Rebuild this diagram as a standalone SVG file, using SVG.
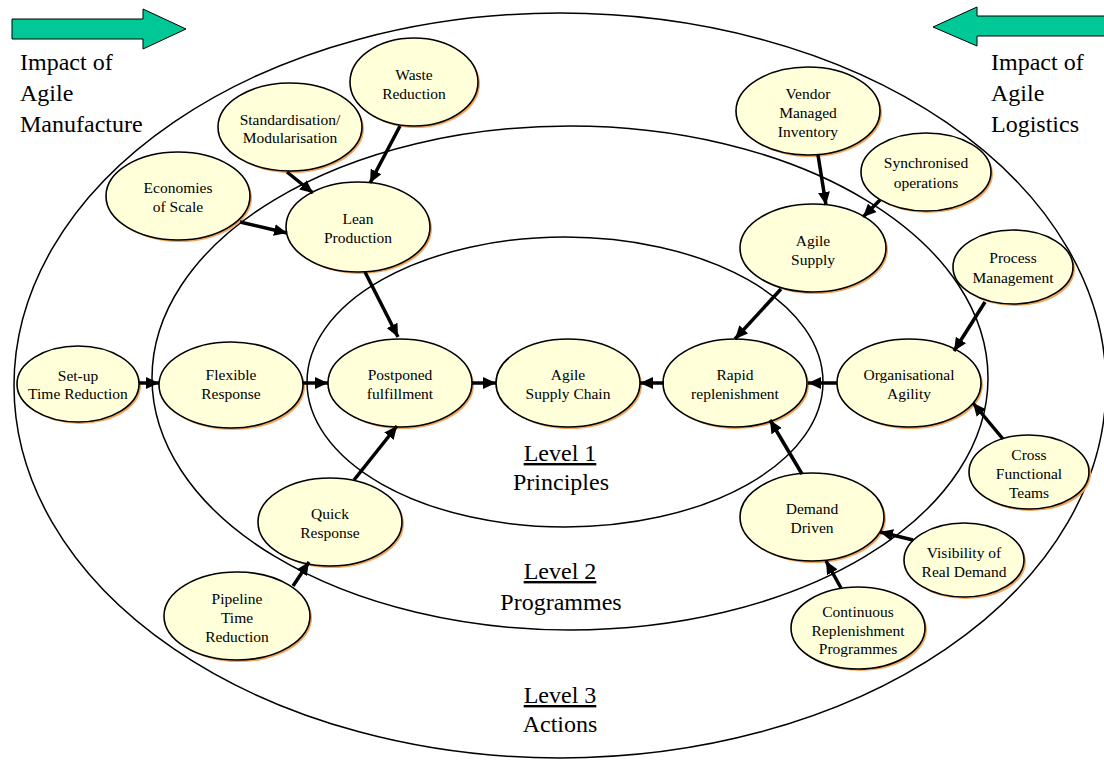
<svg xmlns="http://www.w3.org/2000/svg" width="1104" height="760" viewBox="0 0 1104 760">
<style>
  .ring { fill: none; stroke: #000; stroke-width: 1.5; }
  .sh { fill: #F4A45A; stroke: none; }
  .nd { fill: #FFFFDA; stroke: #000; stroke-width: 1.6; }
  text { font-family: 'Liberation Serif', Tinos, 'Times New Roman', 'DejaVu Serif', serif; fill: #000; }
  .t { font-size: 15.5px; text-anchor: middle; }
  .big { font-size: 24px; }
  .lvl { font-size: 24px; text-anchor: middle; }
  .c { stroke: #000; stroke-width: 3.5; fill: none; marker-end: url(#ah); }
  .garrow { fill: #00C896; stroke: #000; stroke-width: 1; }
</style>
<defs>
  <marker id="ah" markerUnits="userSpaceOnUse" markerWidth="14" markerHeight="12" refX="13" refY="6" orient="auto">
    <path d="M0,0 L13,6 L0,12 z" fill="#000"/>
  </marker>
</defs>
<rect width="1104" height="760" fill="#fff"/>

<g id="rings">
  <ellipse class="ring" cx="560" cy="385.5" rx="546" ry="372.5"/>
  <ellipse class="ring" cx="570" cy="378" rx="418" ry="252"/>
  <ellipse class="ring" cx="565" cy="382" rx="258" ry="145"/>
</g>

<g id="impact-manufacture">
  <path class="garrow" d="M12,19 L143,19 L143,9 L186,29 L143,49 L143,39 L12,39 Z"/>
  <text class="big" x="20" y="70">Impact of</text>
  <text class="big" x="20" y="101">Agile</text>
  <text class="big" x="20" y="132">Manufacture</text>
</g>
<g id="impact-logistics">
  <path class="garrow" d="M1110,16 L977,16 L977,7 L933,27 L977,46 L977,36 L1110,36 Z"/>
  <text class="big" x="991" y="70">Impact of</text>
  <text class="big" x="991" y="101">Agile</text>
  <text class="big" x="991" y="132">Logistics</text>
</g>

<g id="levels">
  <text class="lvl" x="560" y="461" text-decoration="underline">Level 1</text>
  <text class="lvl" x="561" y="490">Principles</text>
  <text class="lvl" x="560" y="579" text-decoration="underline">Level 2</text>
  <text class="lvl" x="561" y="610">Programmes</text>
  <text class="lvl" x="560" y="703" text-decoration="underline">Level 3</text>
  <text class="lvl" x="560" y="732">Actions</text>
</g>

<g id="waste-reduction">
  <ellipse class="sh" cx="416" cy="84" rx="64" ry="44"/>
  <ellipse class="nd" cx="414" cy="82" rx="64" ry="44"/>
  <text class="t" x="414" y="80">Waste</text>
  <text class="t" x="414" y="99">Reduction</text>
</g>
<g id="standardisation">
  <ellipse class="sh" cx="292" cy="129" rx="72" ry="44"/>
  <ellipse class="nd" cx="290" cy="127" rx="72" ry="44"/>
  <text class="t" x="290" y="125">Standardisation/</text>
  <text class="t" x="290" y="143">Modularisation</text>
</g>
<g id="economies-of-scale">
  <ellipse class="sh" cx="180" cy="198" rx="72" ry="44"/>
  <ellipse class="nd" cx="178" cy="196" rx="72" ry="44"/>
  <text class="t" x="178" y="193">Economies</text>
  <text class="t" x="178" y="212">of Scale</text>
</g>
<g id="lean-production">
  <ellipse class="sh" cx="360" cy="229" rx="72" ry="45"/>
  <ellipse class="nd" cx="358" cy="227" rx="72" ry="45"/>
  <text class="t" x="358" y="224">Lean</text>
  <text class="t" x="358" y="243">Production</text>
</g>
<g id="vendor-managed-inventory">
  <ellipse class="sh" cx="810" cy="113" rx="72" ry="44"/>
  <ellipse class="nd" cx="808" cy="111" rx="72" ry="44"/>
  <text class="t" x="808" y="99">Vendor</text>
  <text class="t" x="808" y="118">Managed</text>
  <text class="t" x="808" y="137">Inventory</text>
</g>
<g id="synchronised-operations">
  <ellipse class="sh" cx="928" cy="174" rx="65" ry="39"/>
  <ellipse class="nd" cx="926" cy="172" rx="65" ry="39"/>
  <text class="t" x="926" y="168">Synchronised</text>
  <text class="t" x="926" y="188">operations</text>
</g>
<g id="agile-supply">
  <ellipse class="sh" cx="815" cy="250" rx="73" ry="44"/>
  <ellipse class="nd" cx="813" cy="248" rx="73" ry="44"/>
  <text class="t" x="813" y="246">Agile</text>
  <text class="t" x="813" y="265">Supply</text>
</g>
<g id="process-management">
  <ellipse class="sh" cx="1015" cy="269" rx="60" ry="37"/>
  <ellipse class="nd" cx="1013" cy="267" rx="60" ry="37"/>
  <text class="t" x="1013" y="263">Process</text>
  <text class="t" x="1013" y="283">Management</text>
</g>
<g id="organisational-agility">
  <ellipse class="sh" cx="911" cy="385" rx="72" ry="44"/>
  <ellipse class="nd" cx="909" cy="383" rx="72" ry="44"/>
  <text class="t" x="909" y="380">Organisational</text>
  <text class="t" x="909" y="399">Agility</text>
</g>
<g id="rapid-replenishment">
  <ellipse class="sh" cx="737" cy="385" rx="72" ry="44"/>
  <ellipse class="nd" cx="735" cy="383" rx="72" ry="44"/>
  <text class="t" x="735" y="380">Rapid</text>
  <text class="t" x="735" y="399">replenishment</text>
</g>
<g id="cross-functional-teams">
  <ellipse class="sh" cx="1031" cy="474" rx="60" ry="37"/>
  <ellipse class="nd" cx="1029" cy="472" rx="60" ry="37"/>
  <text class="t" x="1029" y="460">Cross</text>
  <text class="t" x="1029" y="479">Functional</text>
  <text class="t" x="1029" y="498">Teams</text>
</g>
<g id="demand-driven">
  <ellipse class="sh" cx="814" cy="519" rx="72" ry="44"/>
  <ellipse class="nd" cx="812" cy="517" rx="72" ry="44"/>
  <text class="t" x="812" y="514">Demand</text>
  <text class="t" x="812" y="533">Driven</text>
</g>
<g id="visibility-of-real-demand">
  <ellipse class="sh" cx="966" cy="562" rx="60" ry="37"/>
  <ellipse class="nd" cx="964" cy="560" rx="60" ry="37"/>
  <text class="t" x="964" y="558">Visibility of</text>
  <text class="t" x="964" y="577">Real Demand</text>
</g>
<g id="continuous-replenishment">
  <ellipse class="sh" cx="860" cy="630" rx="67" ry="41"/>
  <ellipse class="nd" cx="858" cy="628" rx="67" ry="41"/>
  <text class="t" x="858" y="617">Continuous</text>
  <text class="t" x="858" y="636">Replenishment</text>
  <text class="t" x="858" y="654">Programmes</text>
</g>
<g id="setup-time-reduction">
  <ellipse class="sh" cx="80" cy="386" rx="61" ry="38"/>
  <ellipse class="nd" cx="78" cy="384" rx="61" ry="38"/>
  <text class="t" x="78" y="381">Set-up</text>
  <text class="t" x="78" y="399">Time Reduction</text>
</g>
<g id="flexible-response">
  <ellipse class="sh" cx="233" cy="387" rx="72" ry="43"/>
  <ellipse class="nd" cx="231" cy="385" rx="72" ry="43"/>
  <text class="t" x="231" y="380">Flexible</text>
  <text class="t" x="231" y="399">Response</text>
</g>
<g id="postponed-fulfillment">
  <ellipse class="sh" cx="402" cy="385" rx="72" ry="44"/>
  <ellipse class="nd" cx="400" cy="383" rx="72" ry="44"/>
  <text class="t" x="400" y="380">Postponed</text>
  <text class="t" x="400" y="399">fulfillment</text>
</g>
<g id="agile-supply-chain">
  <ellipse class="sh" cx="570" cy="385" rx="72" ry="44"/>
  <ellipse class="nd" cx="568" cy="383" rx="72" ry="44"/>
  <text class="t" x="568" y="380">Agile</text>
  <text class="t" x="568" y="399">Supply Chain</text>
</g>
<g id="quick-response">
  <ellipse class="sh" cx="332" cy="524" rx="72" ry="44"/>
  <ellipse class="nd" cx="330" cy="522" rx="72" ry="44"/>
  <text class="t" x="330" y="519">Quick</text>
  <text class="t" x="330" y="538">Response</text>
</g>
<g id="pipeline-time-reduction">
  <ellipse class="sh" cx="239" cy="618" rx="73" ry="44"/>
  <ellipse class="nd" cx="237" cy="616" rx="73" ry="44"/>
  <text class="t" x="237" y="604">Pipeline</text>
  <text class="t" x="237" y="623">Time</text>
  <text class="t" x="237" y="642">Reduction</text>
</g>

<g id="connectors">
  <line class="c" x1="400" y1="126" x2="370" y2="183"/>
  <line class="c" x1="287" y1="172" x2="313" y2="193"/>
  <line class="c" x1="240" y1="222" x2="287" y2="233"/>
  <line class="c" x1="365" y1="272" x2="398" y2="337"/>
  <line class="c" x1="139" y1="383" x2="159" y2="383"/>
  <line class="c" x1="303" y1="383" x2="328" y2="383"/>
  <line class="c" x1="472" y1="383" x2="496" y2="383"/>
  <line class="c" x1="664" y1="383" x2="640" y2="383"/>
  <line class="c" x1="837" y1="383" x2="808" y2="383"/>
  <line class="c" x1="781" y1="289" x2="735" y2="339"/>
  <line class="c" x1="818" y1="155" x2="826" y2="205"/>
  <line class="c" x1="880" y1="200" x2="863" y2="217"/>
  <line class="c" x1="985" y1="302" x2="954" y2="351"/>
  <line class="c" x1="1003" y1="439" x2="973" y2="403"/>
  <line class="c" x1="802" y1="474" x2="770" y2="420"/>
  <line class="c" x1="913" y1="540" x2="880" y2="532"/>
  <line class="c" x1="841" y1="588" x2="826" y2="561"/>
  <line class="c" x1="354" y1="480" x2="397" y2="426"/>
  <line class="c" x1="293" y1="586" x2="309" y2="562"/>
</g>
</svg>
